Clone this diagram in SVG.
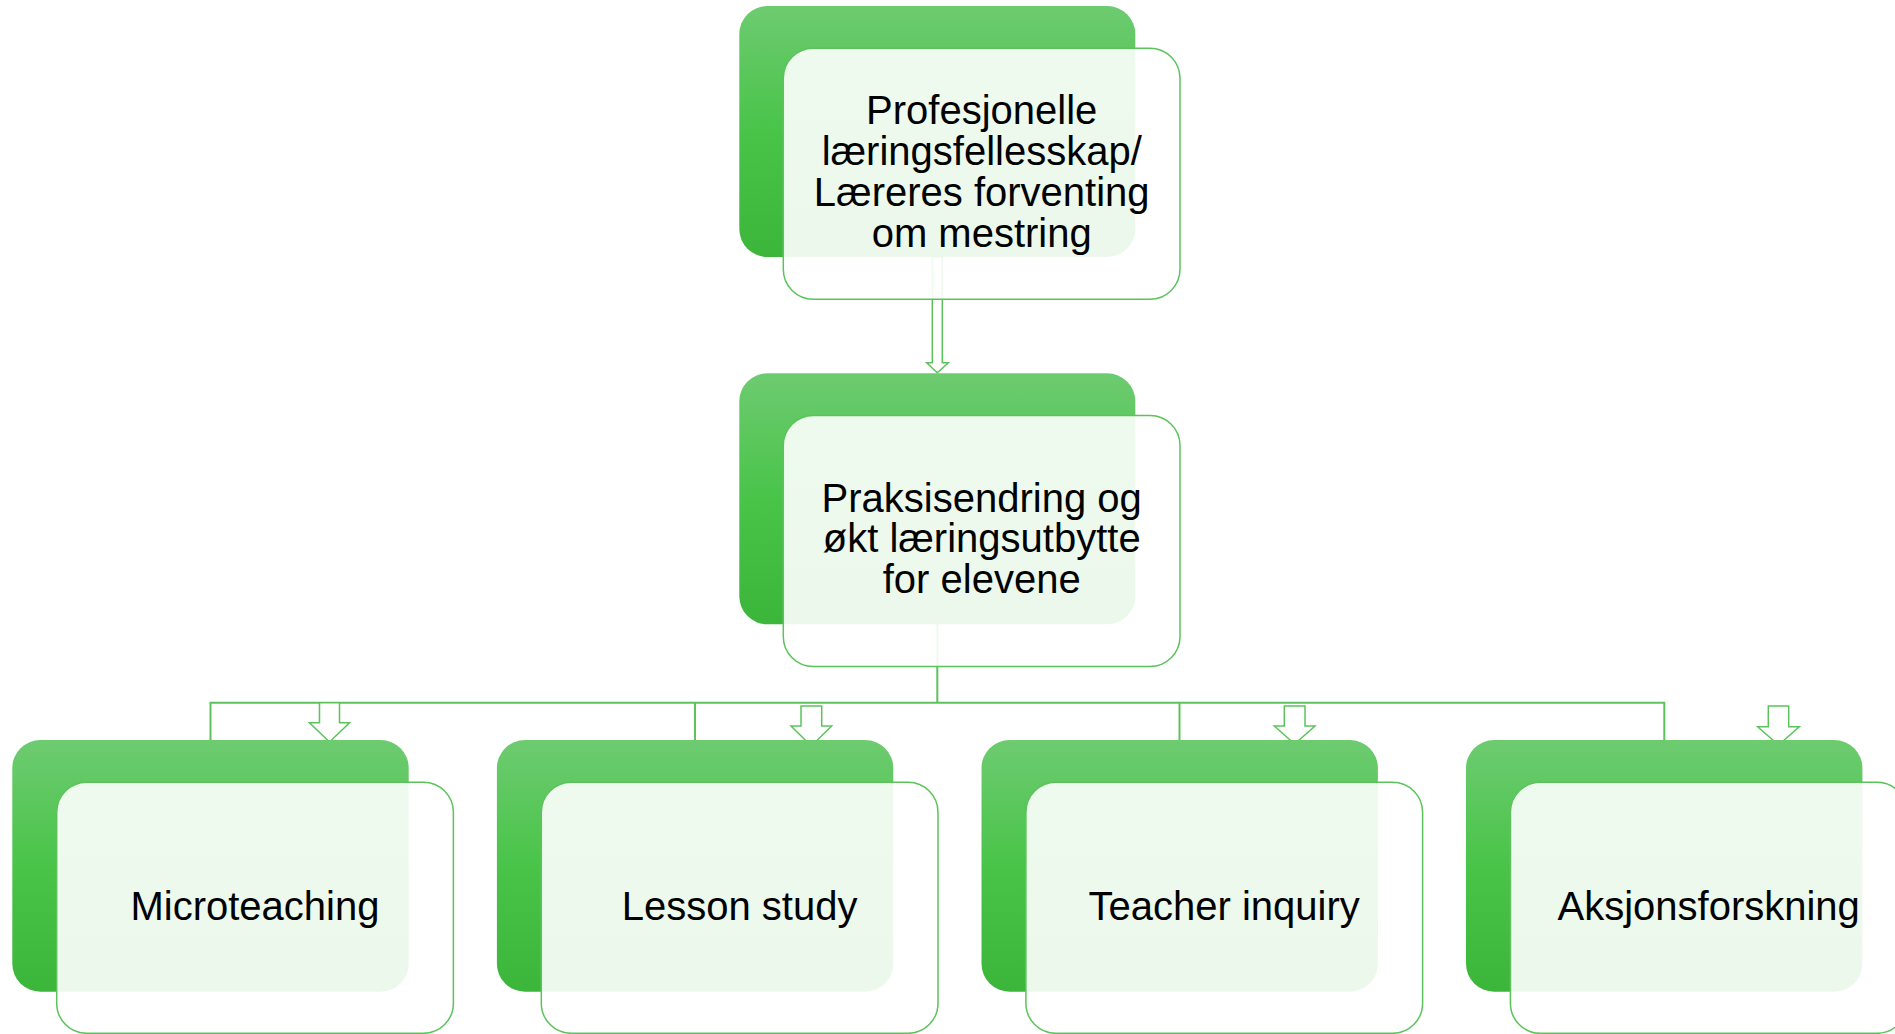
<svg xmlns="http://www.w3.org/2000/svg" width="1895" height="1034" viewBox="0 0 1895 1034">
<defs>
<linearGradient id="g" x1="0" y1="0" x2="0" y2="1">
<stop offset="0" stop-color="#6DCB70"/>
<stop offset="0.5" stop-color="#49C449"/>
<stop offset="1" stop-color="#3BB53A"/>
</linearGradient>
<style>
.back{fill:url(#g);}
.front{fill:#ffffff;fill-opacity:0.9;stroke:#5CC35C;stroke-width:1.5;}
.line{fill:none;stroke:#5CC35C;stroke-width:2;}
.arrow{fill:#ffffff;stroke:#5CC35C;stroke-width:1.5;stroke-linejoin:miter;}
.t{font-family:"Liberation Sans",Arial,sans-serif;font-size:40px;fill:#000;text-anchor:middle;}
</style>
</defs>
<rect width="1895" height="1034" fill="#ffffff"/>
<g id="connectors">
<polygon class="arrow" points="932.3,257 942.3,257 942.3,362.7 948.3,362.7 937.3,372.7 926.7,362.7 932.3,362.7"/>
<polyline class="line" points="937.3,624 937.3,702.7"/>
<polyline class="line" points="210.5,740 210.5,702.7 1664.3,702.7 1664.3,740"/>
<polyline class="line" points="695,702.7 695,740"/>
<polyline class="line" points="1179.5,702.7 1179.5,740"/>
<polygon class="arrow" points="319.5,702.7 339.5,702.7 339.5,722.7 349.5,722.7 329.5,742 309.5,722.7 319.5,722.7"/>
<polygon class="arrow" points="801,706 821.7,706 821.7,726 831.7,726 811.3,746 791,726 801,726"/>
<polygon class="arrow" points="1284.3,706 1305,706 1305,726 1315,726 1294.7,744 1274.3,726 1284.3,726"/>
<polygon class="arrow" points="1768.3,706 1788.7,706 1788.7,726.7 1799.3,726.7 1778.5,745 1757.7,726.7 1768.3,726.7"/>
</g>
<g id="node-top">
<rect class="back" x="739.3" y="6" width="396" height="251" rx="28"/>
<rect class="front" x="783.3" y="48.3" width="396.7" height="251" rx="30"/>
<text class="t" x="981.7" y="124">Profesjonelle</text>
<text class="t" x="981.7" y="165">læringsfellesskap/</text>
<text class="t" x="981.7" y="205.5">Læreres forventing</text>
<text class="t" x="981.7" y="246.5">om mestring</text>
</g>
<g id="node-middle">
<rect class="back" x="739.3" y="373.3" width="396" height="251" rx="28"/>
<rect class="front" x="783.3" y="415.5" width="396.7" height="251" rx="30"/>
<text class="t" x="981.7" y="511.7">Praksisendring og</text>
<text class="t" x="981.7" y="552">økt læringsutbytte</text>
<text class="t" x="981.7" y="593.3">for elevene</text>
</g>
<g id="node-microteaching">
<rect class="back" x="12.3" y="740" width="396.4" height="251.7" rx="28"/>
<rect class="front" x="56.7" y="782.3" width="396.7" height="251" rx="30"/>
<text class="t" x="255" y="919.5">Microteaching</text>
</g>
<g id="node-lesson-study">
<rect class="back" x="496.9" y="740" width="396.4" height="251.7" rx="28"/>
<rect class="front" x="541.3" y="782.3" width="396.7" height="251" rx="30"/>
<text class="t" x="739.6" y="919.5">Lesson study</text>
</g>
<g id="node-teacher-inquiry">
<rect class="back" x="981.5" y="740" width="396.4" height="251.7" rx="28"/>
<rect class="front" x="1025.9" y="782.3" width="396.7" height="251" rx="30"/>
<text class="t" x="1224.2" y="919.5">Teacher inquiry</text>
</g>
<g id="node-aksjonsforskning">
<rect class="back" x="1466" y="740" width="396.4" height="251.7" rx="28"/>
<rect class="front" x="1510.4" y="782.3" width="396.7" height="251" rx="30"/>
<text class="t" x="1708.7" y="919.5">Aksjonsforskning</text>
</g>
</svg>
